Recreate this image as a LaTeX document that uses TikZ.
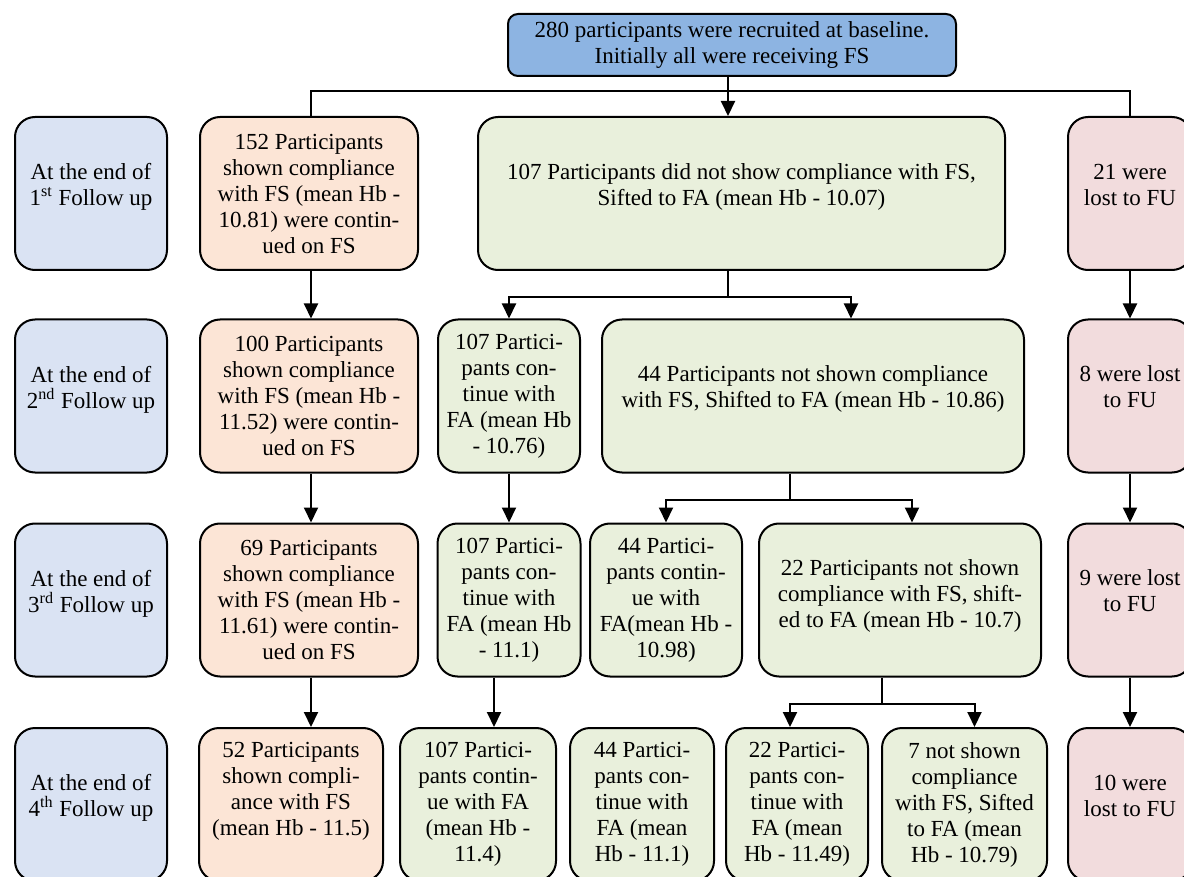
\documentclass[tikz,border=0pt]{standalone}
\usepackage{fontspec}
\setmainfont{Liberation Serif}
\usepackage{tikz}
\usetikzlibrary{arrows.meta}
\definecolor{topblue}{RGB}{141,180,226}
\definecolor{stageblue}{RGB}{218,227,243}
\definecolor{fsorange}{RGB}{252,229,214}
\definecolor{fagreen}{RGB}{233,240,220}
\definecolor{lostred}{RGB}{242,220,221}
\tikzstyle{box} = [draw,rectangle,rounded corners=10pt,line width=1pt,align=center,inner sep=2pt,minimum height=76.5pt,font=\fontsize{11.5}{13}\selectfont]
\tikzstyle{stage} = [box,fill=stageblue,minimum width=76pt]
\tikzstyle{fs} = [box,fill=fsorange]
\tikzstyle{fa} = [box,fill=fagreen]
\tikzstyle{lost} = [box,fill=lostred,minimum width=62pt]
\tikzstyle{lift} = [text depth=9pt]
\tikzstyle{connector} = [-{Triangle[width=7pt,length=7.5pt]},line width=1pt]
\tikzstyle{line} = [line width=1pt]

\begin{document}
\begin{tikzpicture}[x=0.5pt,y=-0.5pt]
    \useasboundingbox (0,0) rectangle (1184,877);
    \clip (0,0) rectangle (1184,877);
    % baseline box
    \node[box,fill=topblue,rounded corners=5pt,minimum width=224pt,minimum height=31pt] (base) at (732,45)
      {280 participants were recruited at baseline.\\ Initially all were receiving FS};
    % 1st follow up
    \node[stage,lift] (stage1) at (91,193.5) {At the end of\\ 1\textsuperscript{st} Follow up};
    \node[fs,minimum width=109pt] (fs1) at (309,193.5) {152 Participants\\ shown compliance\\ with FS (mean Hb -\\ 10.81) were contin-\\ ued on FS};
    \node[fa,lift,minimum width=263.5pt] (shift1) at (741.5,193.5) {107 Participants did not show compliance with FS,\\ Sifted to FA (mean Hb - 10.07)};
    \node[lost,lift] (lost1) at (1130,193.5) {21 were\\ lost to FU};
    % 2nd follow up
    \node[stage,lift] (stage2) at (91,396) {At the end of\\ 2\textsuperscript{nd} Follow up};
    \node[fs,minimum width=109pt] (fs2) at (309,396) {100 Participants\\ shown compliance\\ with FS (mean Hb -\\ 11.52) were contin-\\ ued on FS};
    \node[fa,minimum width=71pt] (cont2) at (509,396) {107 Partici-\\ pants con-\\ tinue with\\ FA (mean Hb\\ - 10.76)};
    \node[fa,lift,minimum width=211pt] (shift2) at (813,396) {44 Participants not shown compliance\\ with FS, Shifted to FA (mean Hb - 10.86)};
    \node[lost,lift] (lost2) at (1130,396) {8 were lost\\ to FU};
    % 3rd follow up
    \node[stage,lift] (stage3) at (91,600) {At the end of\\ 3\textsuperscript{rd} Follow up};
    \node[fs,minimum width=109pt] (fs3) at (309,600) {69 Participants\\ shown compliance\\ with FS (mean Hb -\\ 11.61) were contin-\\ ued on FS};
    \node[fa,minimum width=71.5pt] (cont3a) at (509,600) {107 Partici-\\ pants con-\\ tinue with\\ FA (mean Hb\\ - 11.1)};
    \node[fa,minimum width=76pt] (cont3b) at (666,600) {44 Partici-\\ pants contin-\\ ue with\\ FA(mean Hb -\\ 10.98)};
    \node[fa,text depth=6pt,minimum width=141pt] (shift3) at (900,600) {22 Participants not shown\\ compliance with FS, shift-\\ ed to FA (mean Hb - 10.7)};
    \node[lost,lift] (lost3) at (1130,600) {9 were lost\\ to FU};
    % 4th follow up
    \node[stage,lift] (stage4) at (91,804.5) {At the end of\\ 4\textsuperscript{th} Follow up};
    \node[fs,text depth=16pt,minimum width=92pt] (fs4) at (291,804.5) {52 Participants\\ shown compli-\\ ance with FS\\ (mean Hb - 11.5)};
    \node[fa,minimum width=78pt] (cont4a) at (478,804.5) {107 Partici-\\ pants contin-\\ ue with FA\\ (mean Hb -\\ 11.4)};
    \node[fa,minimum width=72pt] (cont4b) at (642,804.5) {44 Partici-\\ pants con-\\ tinue with\\ FA (mean\\ Hb - 11.1)};
    \node[fa,minimum width=71pt] (cont4c) at (797,804.5) {22 Partici-\\ pants con-\\ tinue with\\ FA (mean\\ Hb - 11.49)};
    \node[fa,minimum width=82.5pt] (shift4) at (964.5,804.5) {7 not shown\\ compliance\\ with FS, Sifted\\ to FA (mean\\ Hb - 10.79)};
    \node[lost,lift] (lost4) at (1130,804.5) {10 were\\ lost to FU};

    % branch points
    \coordinate (split1) at ([xshift=-7pt,yshift=-13pt]shift1.south);
    \coordinate (split2) at ([xshift=-11.5pt,yshift=-13pt]shift2.south);
    \coordinate (split3) at ([xshift=-9pt,yshift=-13pt]shift3.south);

    % now link the nodes
    \draw [connector] ([xshift=-2pt]base.south) -- ([xshift=-2pt]base.south |- shift1.north);
    \draw [line] ([xshift=1pt]fs1.north) -- ++(0,-25) -| (lost1.north);
    \draw [connector] ([xshift=1pt]fs1.south) -- ([xshift=1pt]fs2.north);
    \draw [connector] ([xshift=1pt]fs2.south) -- ([xshift=1pt]fs3.north);
    \draw [connector] ([xshift=1pt]fs3.south) -- ([xshift=1pt]fs3.south |- fs4.north);
    \draw [line] (shift1.south -| split1) -- (split1);
    \draw [connector] (split1) -| (cont2.north);
    \draw [connector] (split1) -| ([xshift=19pt]shift2.north);
    \draw [connector] (cont2) -- (cont3a);
    \draw [line] (shift2.south -| split2) -- (split2);
    \draw [connector] (split2) -| (cont3b.north);
    \draw [connector] (split2) -| ([xshift=6pt]shift3.north);
    \draw [connector] ([xshift=-7.5pt]cont3a.south) -- ([xshift=-7.5pt]cont3a.south |- cont4a.north);
    \draw [line] (shift3.south -| split3) -- (split3);
    \draw [connector] (split3) -| ([xshift=-3.5pt]cont4c.north);
    \draw [connector] (split3) -| ([xshift=5pt]shift4.north);
    \draw [connector] (lost1) -- (lost2);
    \draw [connector] (lost2) -- (lost3);
    \draw [connector] (lost3) -- (lost4);
\end{tikzpicture}
\end{document}
